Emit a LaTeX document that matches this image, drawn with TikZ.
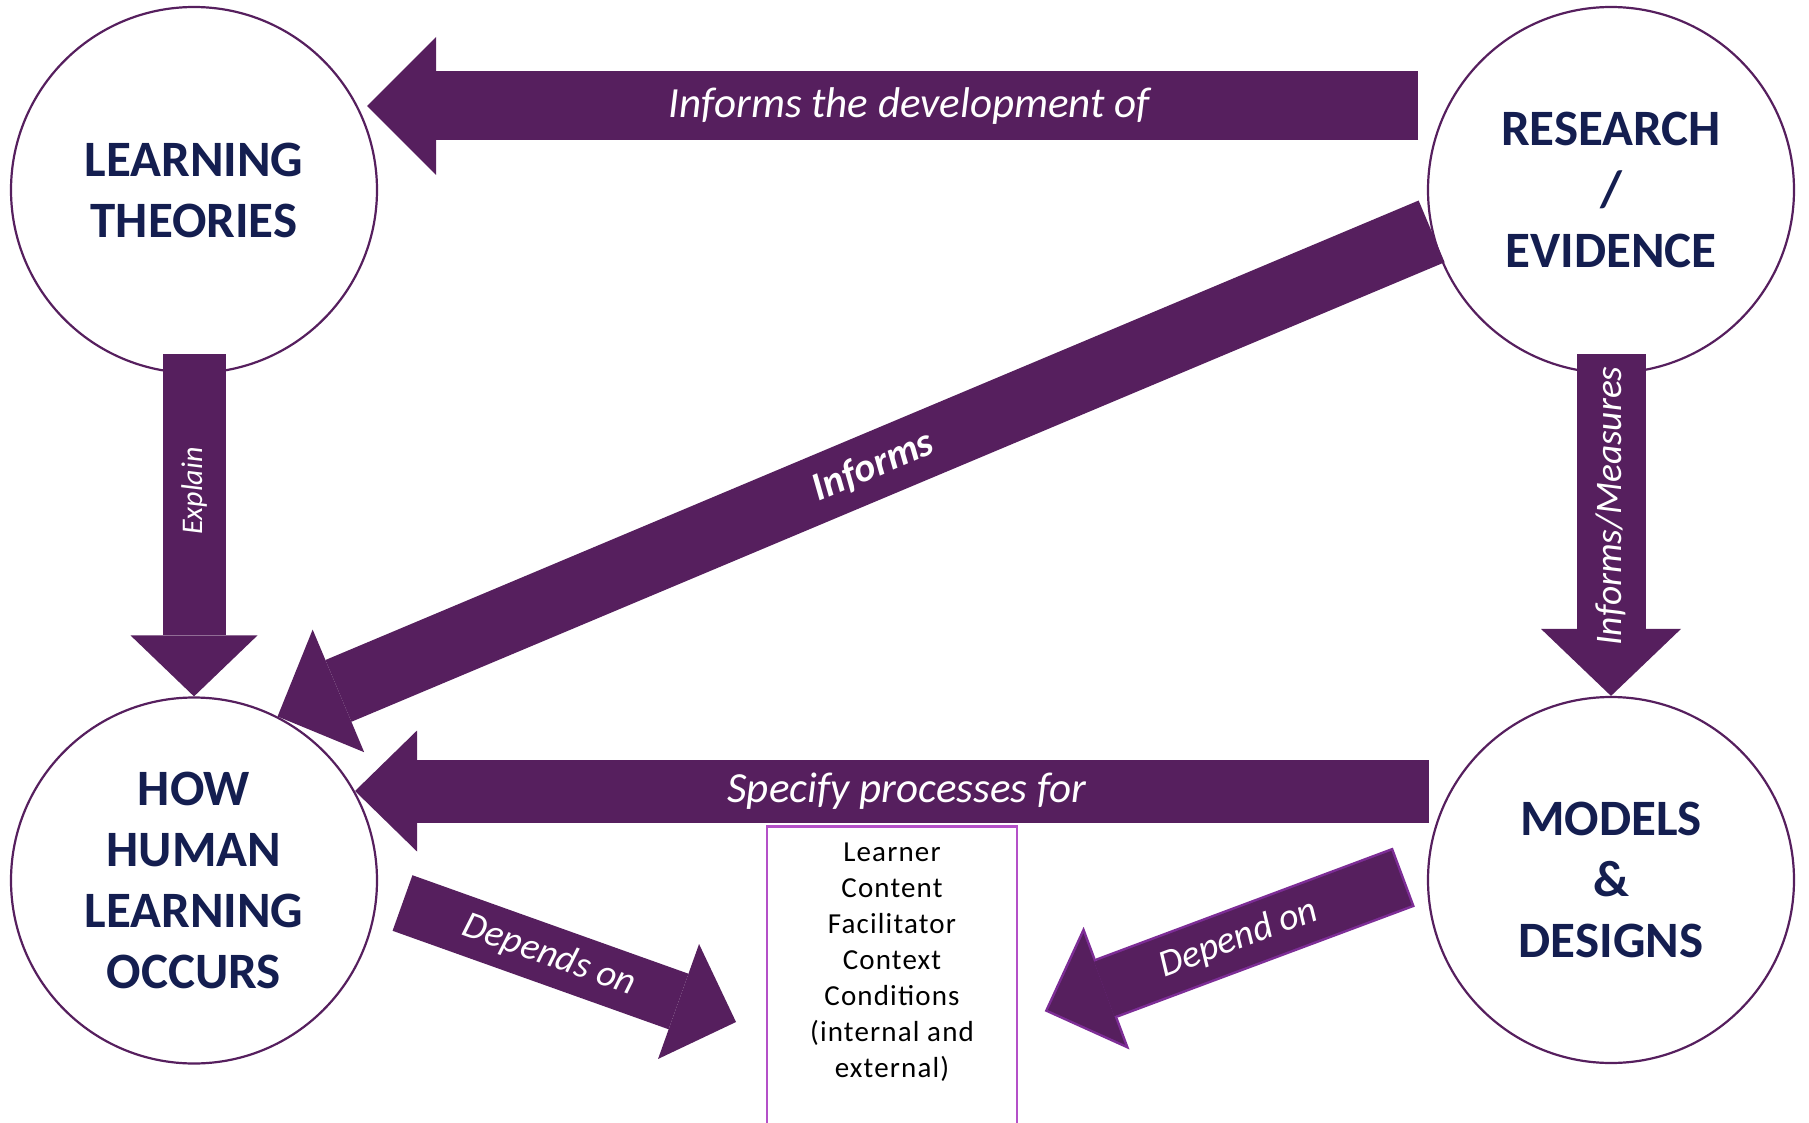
\documentclass[tikz,border=0pt]{standalone}
\usepackage{fontspec}
\setmainfont{Carlito}
\usetikzlibrary{arrows.meta}

\definecolor{plum}{RGB}{86,31,94}
\definecolor{navy}{RGB}{20,30,80}
\definecolor{orchid}{RGB}{180,80,200}
\definecolor{lilac}{RGB}{125,45,150}

\tikzset{
  bubble/.style={circle, draw=plum, line width=2.2pt, fill=white, minimum size=366pt,
    inner sep=0pt, align=center, text=navy, font=\fontsize{51}{61}\selectfont\bfseries},
  fatarrow/.style n args={3}{draw=plum, line width=#1,
    -{Triangle[length=#3, width=#2, line width=0pt]}},
  armlabel/.style={text=white, inner sep=0pt, font=\fontsize{#1}{#1}\selectfont\itshape},
  listbox/.style={draw=orchid, line width=2.5pt, minimum width=250pt, minimum height=320pt},
  listtext/.style={align=center, inner sep=0pt,
    font=\fontsize{29}{36}\selectfont\addfontfeatures{LetterSpace=4}},
}

\begin{document}
\begin{tikzpicture}[x=1pt,y=-1pt]
\clip (0,0) rectangle (1809,1123);

\node[listbox, anchor=north] (factors) at (892,825) {};
\node[listtext] (factorlist) at (892,962.5) {Learner\\Content\\Facilitator\\Context\\Conditions\\(internal and\\external)};

\node[bubble] (theories) at (194,190) {LEARNING\\THEORIES};
\node[bubble] (evidence) at (1611,190) {RESEARCH\\/\\EVIDENCE};
\node[bubble] (occurs) at (194,880.5) {HOW\\HUMAN\\LEARNING\\OCCURS};
\node[bubble] (designs) at (1611,880) {MODELS\\\&\\DESIGNS};

\coordinate (devtail) at (1418,106);
\coordinate (devhead) at (367,106);
\coordinate (spectail) at (1429,791);
\coordinate (dstail) at (402.5,903);
\coordinate (dshead) at (736,1022);
\coordinate (dtail) at (1401.5,878);
\coordinate (dhead) at (1048,1010);

% top and sides
\draw[fatarrow={69pt}{138pt}{69pt}] (devtail) -- (devhead)
  node[armlabel=43, pos=0.484] (devlabel) {Informs the development of};
\draw[fatarrow={63pt}{127pt}{61pt}, shorten <=-20pt] (theories.south) -- (occurs.north)
  node[armlabel=30, pos=0.363, rotate=90] (explainlabel) {Explain};
\draw[fatarrow={69pt}{140pt}{67pt}, shorten <=-20pt] (evidence.south) -- (designs.north)
  node[armlabel=37.5, pos=0.41, rotate=90] (measurelabel) {Informs/Measures};

% diagonal
\draw[fatarrow={67pt}{133pt}{66pt}] (evidence.193) -- (occurs.63)
  node[armlabel=40, pos=0.484, sloped, font=\fontsize{40}{40}\selectfont\bfseries\itshape] (informlabel) {Informs};

% bottom row
\draw[fatarrow={63pt}{121pt}{62pt}] (spectail) -- (spectail -| occurs.29)
  node[armlabel=43, pos=0.486] (speclabel) {Specify processes for};
\draw[fatarrow={59pt}{122pt}{61pt}] (dstail) -- (dshead)
  node[armlabel=38, pos=0.44, sloped] (dslabel) {Depends on};
\draw[fatarrow={63pt}{131pt}{66pt}, draw=lilac, shorten <=-2.5pt, shorten >=-3.5pt] (dtail) -- (dhead);
\draw[fatarrow={58pt}{119pt}{60pt}] (dtail) -- (dhead)
  node[armlabel=38, pos=0.46, sloped] (dlabel) {Depend on};

\end{tikzpicture}
\end{document}
